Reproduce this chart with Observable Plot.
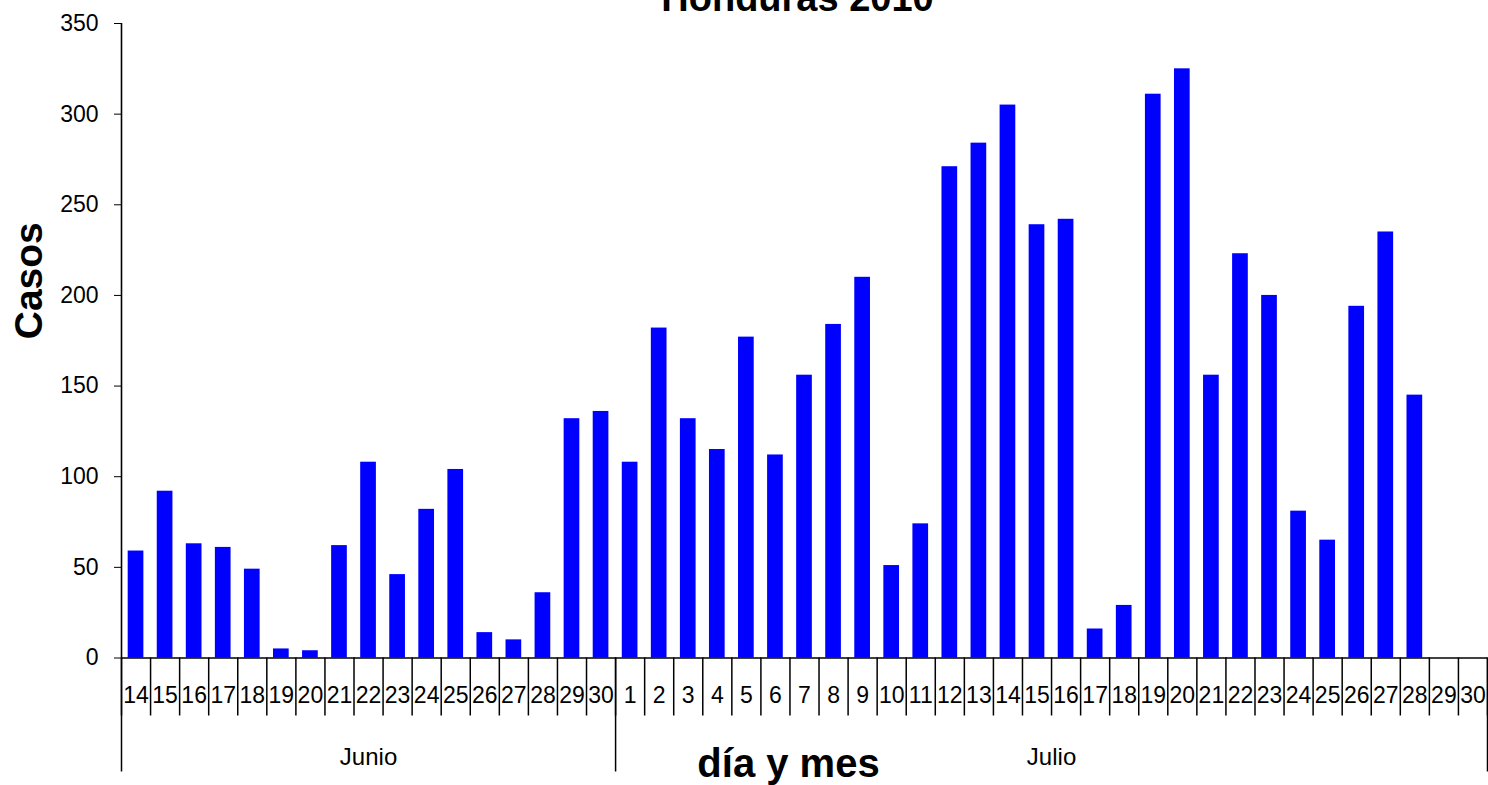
<!DOCTYPE html>
<html>
<head>
<meta charset="utf-8">
<script src="https://cdn.jsdelivr.net/npm/d3@7"></script>
<script src="https://cdn.jsdelivr.net/npm/@observablehq/plot@0.6"></script>
<style>
  body { margin: 0; background: #fff; }
  #chart svg { font-family: "Liberation Sans", Arial, sans-serif; }
</style>
</head>
<body>
<div id="chart"></div>
<script>
const title = "Honduras 2010";
const yLabel = "Casos";
const xLabel = "día y mes";
const months = ["Junio", "Julio"];
const junioDays = ["14","15","16","17","18","19","20","21","22","23","24","25","26","27","28","29","30"];
const julioDays = ["1","2","3","4","5","6","7","8","9","10","11","12","13","14","15","16","17","18","19","20","21","22","23","24","25","26","27","28","29","30"];
const junioCases = [59, 92, 63, 61, 49, 5, 4, 62, 108, 46, 82, 104, 14, 10, 36, 132, 136];
const julioCases = [108, 182, 132, 115, 177, 112, 156, 184, 210, 51, 74, 271, 284, 305, 239, 242, 16, 29, 311, 325, 156, 223, 200, 81, 65, 194, 235, 145, null, null];
const yTicks = [0, 50, 100, 150, 200, 250, 300, 350];

const days = [...junioDays, ...julioDays];
const cases = [...junioCases, ...julioCases];
const data = days.map((day, i) => ({i, day, cases: cases[i]}));
const monthSpans = [
  {name: months[0], start: 0, end: junioDays.length},
  {name: months[1], start: junioDays.length, end: days.length}
];
const bounds = d3.range(days.length + 1);
const monthBounds = [0, junioDays.length, days.length];

const W = 1488, H = 785, mL = 121, mR = 1, mT = 23, mB = 127.5;
const plotH = H - mT - mB;
const step = (W - mL - mR) / days.length;
const barInset = step * 0.23;

const chart = Plot.plot({
  width: W, height: H,
  marginLeft: mL, marginRight: mR, marginTop: mT, marginBottom: mB,
  style: {background: "white", color: "black", fontFamily: "'Liberation Sans', Arial, sans-serif"},
  x: {type: "linear", domain: [0, days.length], axis: null},
  y: {domain: [0, 350], axis: null},
  marks: [
    Plot.rect(data.filter(d => d.cases != null), {
      x1: "i", x2: d => d.i + 1, y1: 0, y2: "cases",
      fill: "#0000ff", insetLeft: barInset, insetRight: barInset
    }),
    Plot.axisY({ticks: yTicks, tickSize: 7, tickPadding: 16, fontSize: 23, tickFormat: d => d, label: null}),
    Plot.ruleX([0], {stroke: "black", strokeWidth: 1.6}),
    Plot.ruleY([0], {stroke: "black", strokeWidth: 1.6}),
    Plot.ruleX(bounds, {insetTop: plotH, insetBottom: -58, stroke: "black", strokeWidth: 1.5}),
    Plot.ruleX(monthBounds, {insetTop: plotH, insetBottom: -114, stroke: "black", strokeWidth: 1.5}),
    Plot.text(data, {x: d => d.i + 0.5, text: "day", frameAnchor: "bottom", lineAnchor: "middle", dy: 38, fontSize: 23}),
    Plot.text(monthSpans, {x: d => (d.start + d.end) / 2, text: "name", frameAnchor: "bottom", lineAnchor: "middle", dy: 99, fontSize: 24}),
    Plot.text([xLabel], {frameAnchor: "bottom", lineAnchor: "middle", dx: -16, dy: 106.5, fontSize: 40, fontWeight: "bold"}),
    Plot.text([yLabel], {frameAnchor: "left", textAnchor: "middle", lineAnchor: "middle", rotate: -90, dx: -92, dy: -60, fontSize: 39, fontWeight: "bold"}),
    Plot.text([title], {frameAnchor: "top", lineAnchor: "middle", dx: -7, dy: -25, fontSize: 38, fontWeight: "bold"})
  ]
});
document.getElementById("chart").appendChild(chart);
</script>
</body>
</html>
